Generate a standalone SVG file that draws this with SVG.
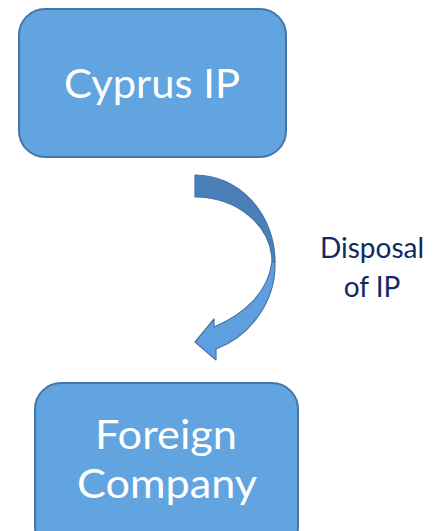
<svg xmlns="http://www.w3.org/2000/svg" width="443" height="531" viewBox="0 0 443 531">
<style>
.box{fill:#62a4e0;stroke:#4675a6;stroke-width:2}
.bt{font-family:Lato,"Open Sans",sans-serif;font-size:41px;fill:#ffffff;text-anchor:middle}
.lbl{font-family:Lato,"Open Sans",sans-serif;font-size:28px;fill:#102a68;text-anchor:middle}
.arr{stroke:#4675a6;stroke-width:1.2;stroke-linejoin:round}
</style>
<rect width="443" height="531" fill="#ffffff"/>
<g id="cyprus-ip">
<rect class="box" x="19" y="9" width="267" height="148" rx="26"/>
<text class="bt" x="152" y="98" textLength="176" lengthAdjust="spacingAndGlyphs">Cyprus IP</text>
</g>
<g id="foreign-company">
<rect class="box" x="35" y="383" width="263" height="170" rx="26"/>
<text class="bt" x="166" y="449" textLength="142" lengthAdjust="spacingAndGlyphs">Foreign</text>
<text class="bt" x="167" y="498" textLength="180" lengthAdjust="spacingAndGlyphs">Company</text>
</g>
<g id="connectors">
<path class="arr" fill="#4a7fb9" d="M195,175 A80,87 0 0 1 275,262 L272,262 A77,65 0 0 0 195,197 Z"/>
<path class="arr" fill="#5f9fdf" d="M275,262 C276,300 252,335 216,349 L216,360 L195,342 L214,319 L214,327 C245,314 268,292 272,262 Z"/>
<text class="lbl" x="372" y="258">Disposal</text>
<text class="lbl" x="372" y="297">of IP</text>
</g>
</svg>
